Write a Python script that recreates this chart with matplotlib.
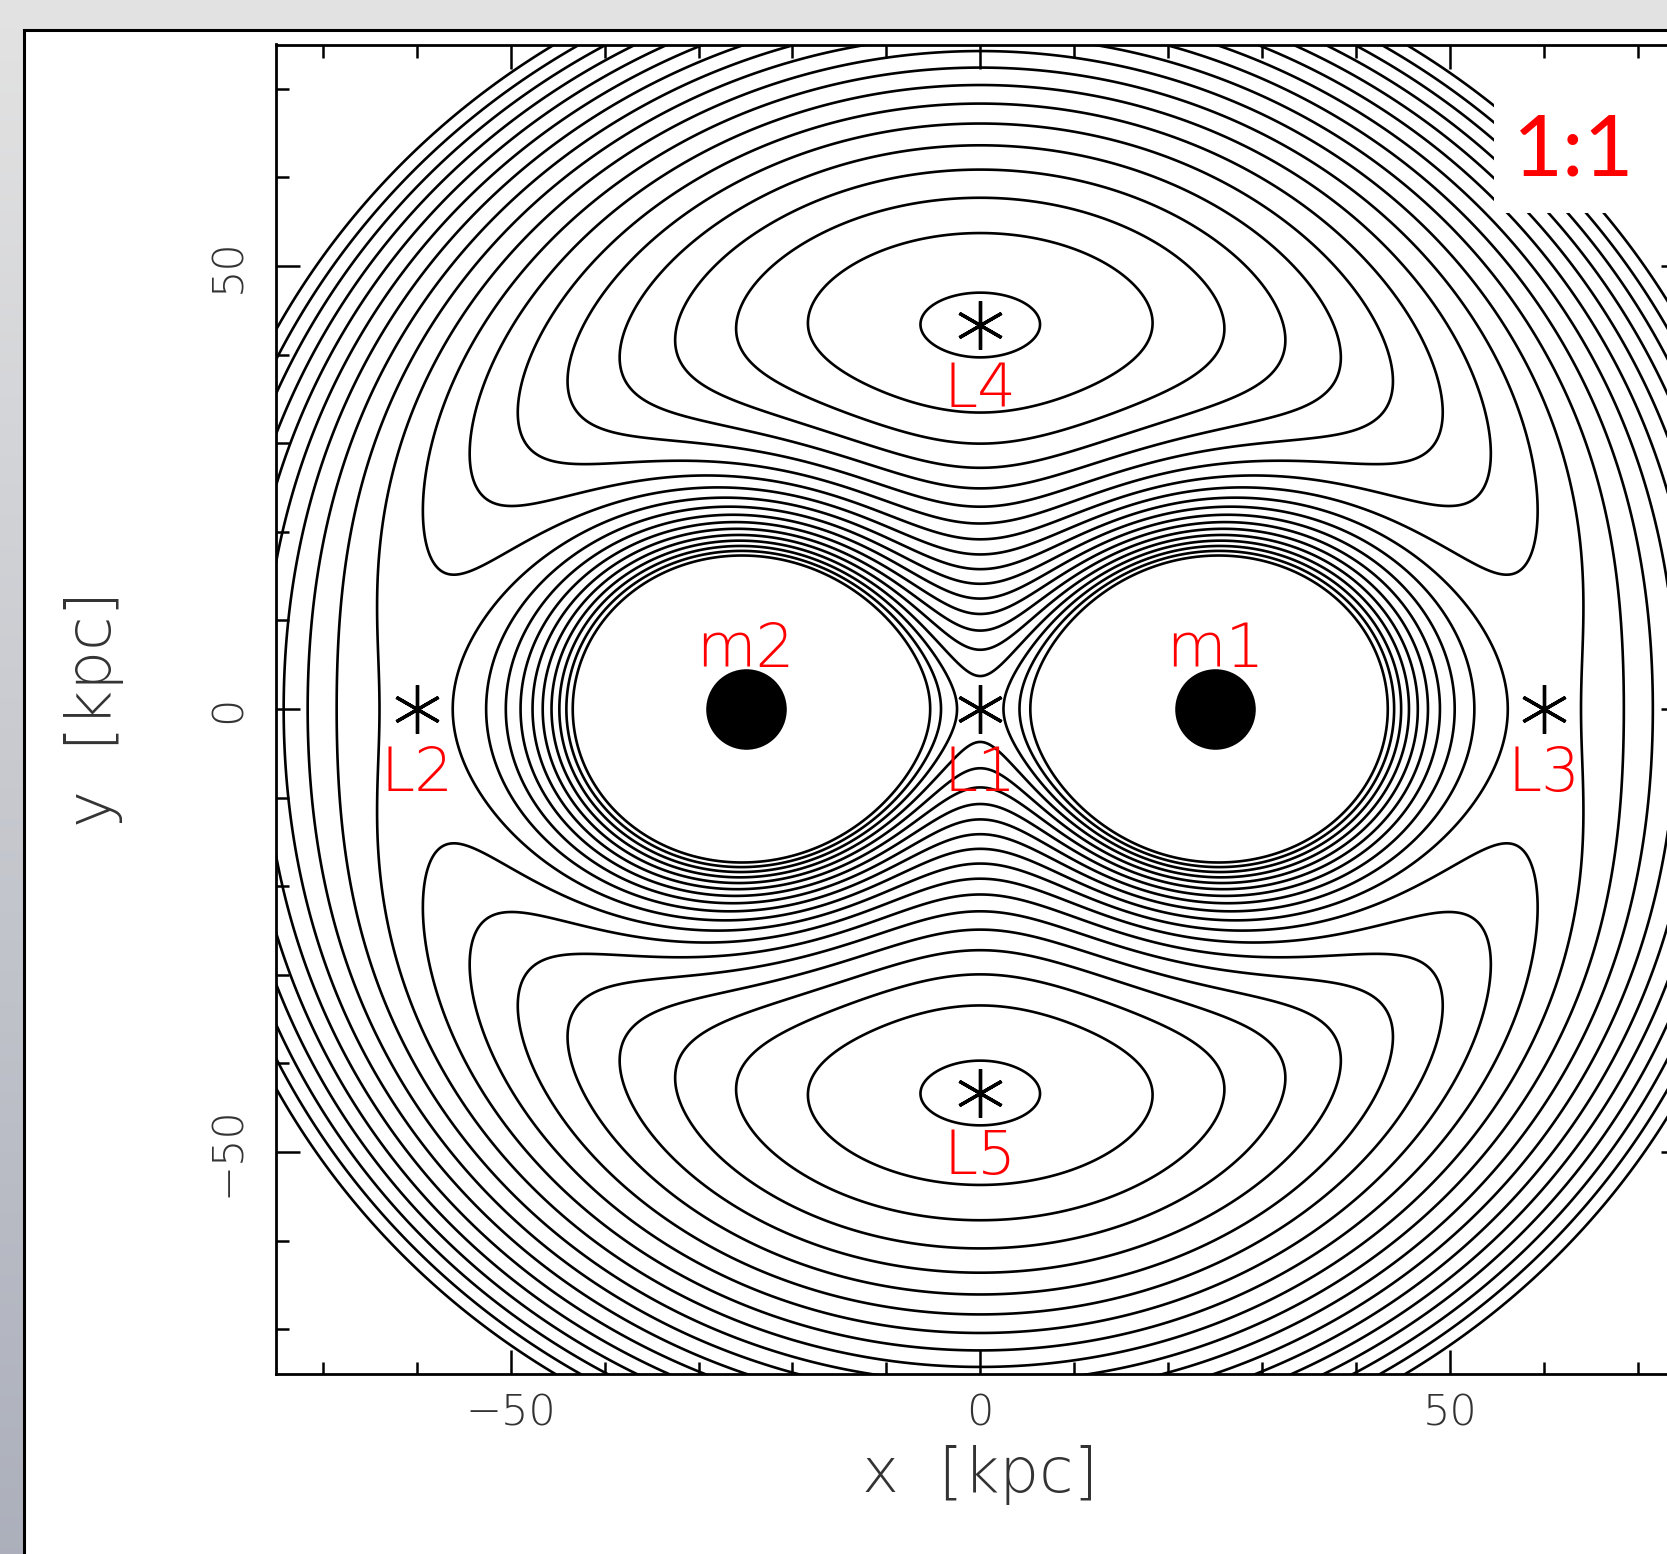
import numpy as np
import matplotlib
matplotlib.use("Agg")
import matplotlib.pyplot as plt
from matplotlib.patches import Rectangle
from matplotlib.ticker import MultipleLocator

W, H = 1667, 1554

# two equal point masses [kpc]
mass_x = [25.0, -25.0]
mass_y = [0.0, 0.0]
mass_names = ["m1", "m2"]

# Lagrange points [kpc]
lag_x = [0.0, -60.0, 60.0, 0.0, 0.0]
lag_y = [0.0, 0.0, 0.0, 43.3, -43.3]
lag_names = ["L1", "L2", "L3", "L4", "L5"]

# effective potential levels, in units of G m / a  (a = half separation)
levels = [-2.101, -2.061, -2.021, -1.981, -1.941, -1.901, -1.861, -1.821,
          -1.781, -1.741, -1.701, -1.661, -1.621, -1.581, -1.541, -1.501,
          -1.461, -1.421, -1.381]

x_ticks = [-50, 0, 50]
y_ticks = [-50, 0, 50]
ratio_text = "1:1"

# ---- potential on a grid
a = abs(mass_x[0] - mass_x[1]) / 2.0
g = np.linspace(-80, 80, 1500)
X, Y = np.meshgrid(g, g)
u, v = X / a, Y / a
phi = np.zeros_like(u)
for mx, my in zip(mass_x, mass_y):
    phi -= 1.0 / np.hypot(u - mx / a, v - my / a)
omega2 = len(mass_x) / 2.0 ** 3
phi -= 0.5 * omega2 * (u ** 2 + v ** 2)

fig = plt.figure(figsize=(W / 100, H / 100), dpi=100)

# slide background + white panel
bg = fig.add_axes([0, 0, 1, 1], zorder=-5)
grad = np.linspace(0, 1, 256)[:, None]
top_c = np.array([0.890, 0.890, 0.890])
bot_c = np.array([0.675, 0.690, 0.735])
img = top_c[None, None, :] * (1 - grad[..., None]) + bot_c[None, None, :] * grad[..., None]
bg.imshow(np.repeat(img, 2, axis=1), aspect="auto", extent=[0, 1, 0, 1])
bg.add_patch(Rectangle((24 / W, -0.1), 1.2, 1.1 - 30 / H, transform=bg.transAxes,
                       facecolor="white", edgecolor="black", linewidth=2.2))
bg.set_xlim(0, 1)
bg.set_ylim(0, 1)
bg.axis("off")

ax = fig.add_axes([276 / W, 180.5 / H, 1408.5 / W, 1329 / H])
ax.contour(X, Y, phi, levels=levels, colors="k", linewidths=1.9, linestyles="solid")
ax.scatter(mass_x, mass_y, s=58 ** 2, c="k", zorder=3, linewidths=0)
ax.plot(lag_x, lag_y, ls="none", marker=(6, 2, 0), ms=35, mew=2.4, color="k", zorder=4)

lab_kw = dict(color="red", fontsize=44, ha="center", va="baseline",
              family="DejaVu Sans", fontweight=200, zorder=5)
for x, y, name in zip(lag_x, lag_y, lag_names):
    ax.text(x, y - 9.2, name, **lab_kw)
for x, y, name in zip(mass_x, mass_y, mass_names):
    ax.text(x, y + 4.7, name, **lab_kw)

ax.set_xlim(-75, 75)
ax.set_ylim(-75, 75)
ax.set_xticks(x_ticks)
ax.set_yticks(y_ticks)
ax.xaxis.set_minor_locator(MultipleLocator(10))
ax.yaxis.set_minor_locator(MultipleLocator(10))
ax.tick_params(which="both", direction="in", top=True, right=True, width=1.8,
               labelsize=31, labelcolor="#333333")
ax.tick_params(which="major", length=17)
ax.tick_params(which="minor", length=9)
ax.tick_params(axis="x", pad=14)
ax.tick_params(axis="y", pad=20)
for t in ax.get_yticklabels():
    t.set_rotation(90)
    t.set_va("center")
for t in ax.get_xticklabels() + ax.get_yticklabels():
    t.set_family("DejaVu Sans")
    t.set_fontweight(200)
for s in ax.spines.values():
    s.set_linewidth(2.0)

ax.set_xlabel("x  [kpc]", fontsize=45, color="#333333", family="DejaVu Sans",
              fontweight=200, labelpad=8)
ax.set_ylabel("y  [kpc]", fontsize=45, color="#333333", family="DejaVu Sans",
              fontweight=200, labelpad=60)

# ratio tag in the corner
fig.add_artist(Rectangle((1494 / W, 1 - 213 / H), 0.2, 119 / H, transform=fig.transFigure,
                         facecolor="white", edgecolor="none", zorder=6))
fig.text(1574 / W, 1 - 176 / H, ratio_text, color="red", fontsize=62, family="Lato",
         ha="center", va="baseline", zorder=7)

fig.savefig("out.png", dpi=100)
